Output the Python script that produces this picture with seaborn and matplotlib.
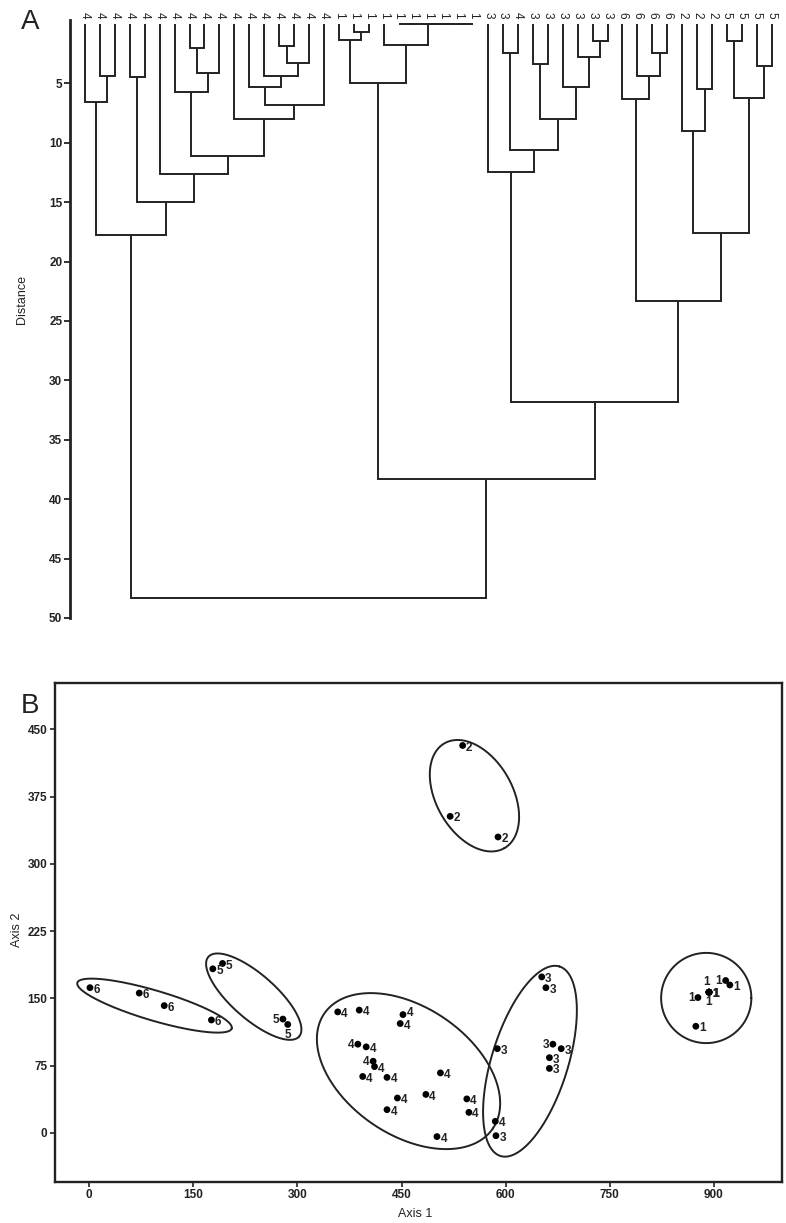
import numpy as np
import pandas as pd
import matplotlib
matplotlib.use("Agg")
import matplotlib.pyplot as plt
import seaborn as sns

# ---------------- Panel A: dendrogram data ----------------
leaf_labels = (['4'] * 17 + ['1'] * 10 +
               ['3', '3', '4', '3', '3', '3', '3', '3', '3'] +
               ['6'] * 4 + ['2'] * 3 + ['5'] * 4)
# merges in scipy-linkage style: node ids >= n_leaves are earlier merges
merge_left = [1, 0, 3, 7, 50, 6, 13, 53, 12, 11, 56, 10, 52, 5, 49, 48,
              18, 17, 21, 23, 25, 66, 65, 20, 64,
              28, 30, 34, 33, 32, 73, 72, 27,
              38, 37, 36, 41, 40, 43, 45, 85, 84, 82, 79, 71, 62]
merge_right = [2, 47, 4, 8, 9, 51, 14, 15, 54, 55, 16, 57, 58, 59, 60, 61,
               19, 63, 22, 24, 26, 67, 68, 69, 70,
               29, 31, 35, 74, 75, 76, 77, 78,
               39, 80, 81, 42, 83, 44, 46, 86, 87, 88, 89, 90, 91]
merge_height = [4.4, 6.55, 4.45, 2.05, 4.1, 5.7, 1.9, 3.3, 4.4, 5.3, 6.83, 8.03,
                11.12, 12.66, 15.0, 17.8,
                0.65, 1.36, 0.0, 0.0, 0.0, 0.0, 0.0, 1.78, 4.95,
                2.48, 3.37, 1.41, 2.82, 5.34, 8.03, 10.6, 12.44,
                2.48, 4.39, 6.35, 5.5, 9.0, 1.41, 3.52, 6.26, 17.57, 23.3,
                31.8, 38.3, 48.35]
dist_ticks = [5, 10, 15, 20, 25, 30, 35, 40, 45, 50]

# ---------------- Panel B: ordination data ----------------
g1_x = [874, 877, 893, 893, 893, 893, 893, 893, 917, 923]
g1_y = [119, 151, 157, 157, 157, 157, 157, 157, 170, 165]
g2_x = [538, 520, 589]
g2_y = [432, 353, 330]
g3_x = [652, 658, 588, 668, 680, 663, 663, 586]
g3_y = [174, 162, 94, 99, 94, 84, 72, -3]
g4_x = [358, 389, 452, 448, 387, 399, 409, 411, 394, 429, 506, 444, 485,
        429, 544, 547, 585, 501]
g4_y = [135, 137, 132, 122, 99, 96, 80, 74, 63, 62, 67, 39, 43, 26, 38,
        23, 13, -4]
g5_x = [192, 178, 279, 286]
g5_y = [189, 183, 127, 121]
g6_x = [1, 72, 108, 176]
g6_y = [162, 156, 142, 126]
axis1_ticks = [0, 150, 300, 450, 600, 750, 900]
axis2_ticks = [0, 75, 150, 225, 300, 375, 450]

# group ellipses (centre, semi-axes in Axis-1 units, rotation in degrees)
ell_group = ['1', '2', '3', '4', '5', '6']
ell_cx = [889, 555, 635, 460, 237, 94]
ell_cy = [150.5, 376, 80, 69, 152, 142]
ell_a = [65, 87, 143, 147, 87, 116]
ell_b = [65, 55, 55, 92, 32, 21.6]
ell_ang = [0, -60.3, 72.7, -34.3, -41.3, -16.5]

# label placement exceptions (style)
label_place = {('4', 4): 'left', ('4', 6): 'left', ('3', 3): 'left',
               ('1', 1): 'left', ('1', 8): 'left', ('5', 2): 'left',
               ('5', 3): 'below', ('1', 3): 'above', ('1', 4): 'below',
               ('4', 2): 'rightup'}

groups = {'1': (g1_x, g1_y), '2': (g2_x, g2_y), '3': (g3_x, g3_y),
          '4': (g4_x, g4_y), '5': (g5_x, g5_y), '6': (g6_x, g6_y)}
rows = []
for g, (xs, ys) in groups.items():
    for i, (xv, yv) in enumerate(zip(xs, ys)):
        rows.append({'group': g, 'idx': i, 'axis1': xv, 'axis2': yv})
df = pd.DataFrame(rows)

# ---------------- style ----------------
sns.set_style("ticks")
plt.rcParams['font.family'] = ['Liberation Sans', 'DejaVu Sans']
INK = '#222222'
NARROW = ['Liberation Sans Narrow', 'Liberation Sans', 'DejaVu Sans']

W, H = 786, 1223
fig = plt.figure(figsize=(W / 100, H / 100), dpi=100)

# ---------------- Panel A ----------------
axA = fig.add_axes([70 / W, 1 - 618 / H, 711 / W, (618 - 20.3) / H])
n = len(leaf_labels)
node_x = {i: float(i) for i in range(n)}
node_h = {i: 0.0 for i in range(n)}
for k, (l, r, h) in enumerate(zip(merge_left, merge_right, merge_height)):
    xl, xr = node_x[l], node_x[r]
    axA.plot([xl, xl, xr, xr], [node_h[l], h, h, node_h[r]],
             color=INK, lw=1.4, solid_capstyle='butt', solid_joinstyle='miter',
             clip_on=False)
    node_x[n + k] = (xl + xr) / 2
    node_h[n + k] = h

axA.set_xlim(-1.005, 46.62)
axA.set_ylim(50, -0.3)
axA.set_yticks(dist_ticks)
axA.set_yticklabels([str(t) for t in dist_ticks], fontweight='bold')
axA.set_xticks(range(n))
axA.set_xticklabels(leaf_labels, rotation=270, fontsize=8.5, color=INK)
axA.tick_params(axis='x', top=True, labeltop=True, bottom=False,
                labelbottom=False, length=0, pad=1.5)
axA.tick_params(axis='y', length=4, width=1.3, pad=1.5, labelsize=8.5,
                color=INK, labelcolor=INK)
for s in ['top', 'right', 'bottom']:
    axA.spines[s].set_visible(False)
axA.spines['left'].set_linewidth(2.0)
axA.spines['left'].set_color(INK)
fig.text(22 / W, 1 - 300 / H, 'Distance', rotation=90, ha='center',
         va='center', fontsize=9, color=INK, family=NARROW)
fig.text(30 / W, 1 - 22 / H, 'A', ha='center', va='center', fontsize=20,
         color=INK)

# ---------------- Panel B ----------------
axB = fig.add_axes([55 / W, 1 - 1181.7 / H, 727.3 / W, 499 / H])
sns.scatterplot(data=df, x='axis1', y='axis2', color='black', s=24,
                edgecolor='none', legend=False, ax=axB, zorder=3)
axB.set_xlim(-49.4, 998.6)
axB.set_ylim(-54.3, 502)

for _, row in df.iterrows():
    place = label_place.get((row['group'], row['idx']), 'right')
    if place == 'left':
        off, ha, va = (-2.5, -0.5), 'right', 'center'
    elif place == 'below':
        off, ha, va = (0, -3), 'center', 'top'
    elif place == 'above':
        off, ha, va = (-2, 3), 'center', 'bottom'
    elif place == 'rightup':
        off, ha, va = (2.5, 1.5), 'left', 'center'
    else:
        off, ha, va = (2.5, -1.5), 'left', 'center'
    axB.annotate(row['group'], (row['axis1'], row['axis2']), xytext=off,
                 textcoords='offset points', ha=ha, va=va, fontsize=8.5,
                 fontweight='bold', color=INK)

# ellipses drawn in data space with aspect correction
bb = axB.get_position()
sx = bb.width * W / (998.6 + 49.4)
sy = bb.height * H / (502 + 54.3)
phi = np.linspace(0, 2 * np.pi, 300)
for cx, cy, a, b, ang in zip(ell_cx, ell_cy, ell_a, ell_b, ell_ang):
    t = np.deg2rad(ang)
    ex = a * np.cos(phi) * np.cos(t) - b * np.sin(phi) * np.sin(t)
    ey = a * np.cos(phi) * np.sin(t) + b * np.sin(phi) * np.cos(t)
    axB.plot(cx + ex, cy + ey * sx / sy, color=INK, lw=1.4)

axB.set_xticks(axis1_ticks)
axB.set_yticks(axis2_ticks)
axB.set_xticklabels([str(t) for t in axis1_ticks], fontweight='bold')
axB.set_yticklabels([str(t) for t in axis2_ticks], fontweight='bold')
axB.tick_params(axis='both', length=3.5, width=1.2, labelsize=8.5,
                color=INK, labelcolor=INK, pad=2)
for s in axB.spines.values():
    s.set_linewidth(1.7)
    s.set_color(INK)
axB.set_xlabel('')
axB.set_ylabel('')
fig.text(415 / W, 1 - 1214 / H, 'Axis 1', ha='center', va='center',
         fontsize=9, color=INK, family=NARROW)
fig.text(17 / W, 1 - 930 / H, 'Axis 2', rotation=90, ha='center',
         va='center', fontsize=9, color=INK, family=NARROW)
fig.text(30 / W, 1 - 706 / H, 'B', ha='center', va='center', fontsize=20,
         color=INK)

fig.savefig('out.png', dpi=100)
